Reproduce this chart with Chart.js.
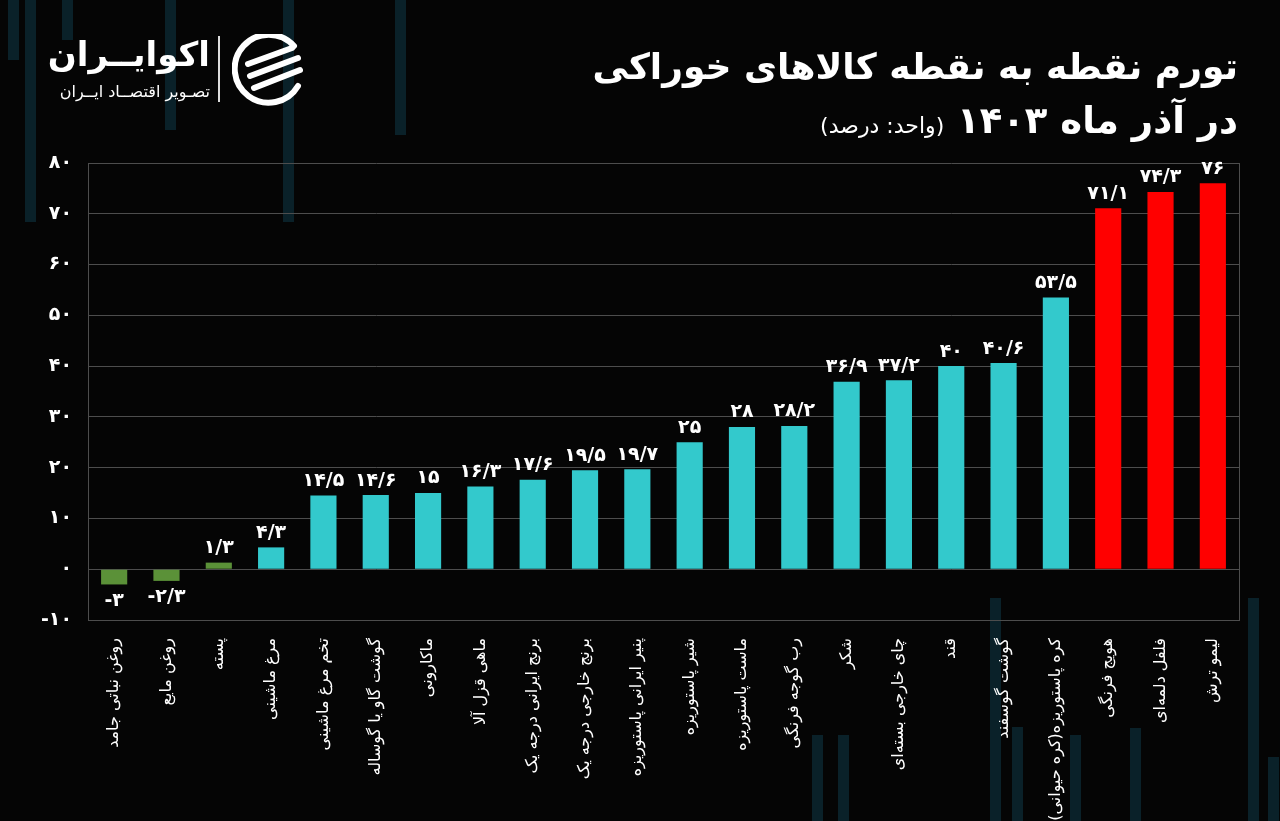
<!DOCTYPE html>
<html lang="fa">
<head>
<meta charset="utf-8">
<script src="https://cdn.jsdelivr.net/npm/chart.js@4/dist/chart.umd.min.js"></script>
<style>
  html, body { margin: 0; padding: 0; background: #050505; }
  body { width: 1280px; height: 821px; position: relative; overflow: hidden; font-family: "DejaVu Sans", sans-serif; color: #fff; }
  .deco { position: absolute; background: #0a2129; width: 11px; }
  #wrap { position: absolute; left: 0; top: 0; width: 1280px; height: 821px; }
  .title { position: absolute; right: 42px; top: 42px; direction: rtl; text-align: right; font-weight: bold; white-space: nowrap; }
  .title .l1 { font-size: 36px; line-height: 50px; }
  .title .l2 { font-size: 37px; line-height: 58px; }
  .title .unit { font-size: 22px; font-weight: normal; }
  .logo { position: absolute; left: 48px; top: 34px; }
  .logo .name { position: absolute; left: 0; top: 0; width: 162px; text-align: right; direction: rtl; font-size: 34px; font-weight: bold; white-space: nowrap; }
  .logo .sub { position: absolute; left: 0; top: 48px; width: 162px; text-align: right; direction: rtl; font-size: 16px; white-space: nowrap; }
  .logo .bar { position: absolute; left: 170px; top: 2px; width: 2px; height: 66px; background: #ddd; }
  .logo svg { position: absolute; left: 184px; top: 0; }
</style>
</head>
<body>
<!-- faint background decoration -->
<div class="deco" style="left:8px;top:0;height:60px"></div>
<div class="deco" style="left:25px;top:0;height:222px"></div>
<div class="deco" style="left:62px;top:0;height:40px"></div>
<div class="deco" style="left:165px;top:0;height:130px"></div>
<div class="deco" style="left:283px;top:0;height:222px"></div>
<div class="deco" style="left:395px;top:0;height:135px"></div>
<div class="deco" style="left:812px;top:735px;height:90px"></div>
<div class="deco" style="left:838px;top:735px;height:90px"></div>
<div class="deco" style="left:990px;top:598px;height:230px"></div>
<div class="deco" style="left:1012px;top:727px;height:100px"></div>
<div class="deco" style="left:1070px;top:735px;height:90px"></div>
<div class="deco" style="left:1130px;top:728px;height:100px"></div>
<div class="deco" style="left:1248px;top:598px;height:230px"></div>
<div class="deco" style="left:1268px;top:757px;height:70px"></div>

<div id="wrap"><canvas id="myChart" width="1280" height="821"></canvas></div>

<div class="logo">
  <div class="name">اکوایــران</div>
  <div class="sub">تصـویر اقتصــاد ایــران</div>
  <div class="bar"></div>
  <svg width="76" height="74" viewBox="0 0 76 74">
    <g fill="none" stroke="#fff" stroke-width="6" stroke-linecap="round">
      <path d="M62 12 A34 34 0 1 0 66 52"/>
      <path d="M16 30 L60 14"/>
      <path d="M18 42 L66 24"/>
      <path d="M22 54 L68 36"/>
    </g>
  </svg>
</div>

<div class="title">
  <div class="l1">تورم نقطه به نقطه کالاهای خوراکی</div>
  <div class="l2">در آذر ماه ۱۴۰۳ <span class="unit">(واحد: درصد)</span></div>
</div>

<script>
// chart data
const categories = [
	'روغن نباتی جامد', 'روغن مایع', 'پسته', 'مرغ ماشینی', 'تخم مرغ ماشینی',
	'گوشت گاو یا گوساله', 'ماکارونی', 'ماهی قزل آلا', 'برنج ایرانی درجه یک',
	'برنج خارجی درجه یک', 'پنیر ایرانی پاستوریزه', 'شیر پاستوریزه', 'ماست پاستوریزه',
	'رب گوجه فرنگی', 'شکر', 'چای خارجی بسته‌ای', 'قند', 'گوشت گوسفند',
	'کره پاستوریزه(کره حیوانی)', 'هویج فرنگی', 'فلفل دلمه‌ای', 'لیمو ترش'
];
const inflation = [-3, -2.3, 1.3, 4.3, 14.5, 14.6, 15, 16.3, 17.6, 19.5, 19.7, 25, 28, 28.2, 36.9, 37.2, 40, 40.6, 53.5, 71.1, 74.3, 76];
const yTicks = [-10, 0, 10, 20, 30, 40, 50, 60, 70, 80];

const faDigits = '۰۱۲۳۴۵۶۷۸۹';
const toFa = (n) => String(n).replace(/\d/g, d => faDigits[d]).replace('.', '/');

const barColor = (v) => {
	if (v < 4) return '#5b9138';
	if (v > 60) return '#ff0000';
	return '#33c9cc';
};

// value labels over the bars
const valueLabels = {
	id: 'valueLabels',
	afterDatasetsDraw(chart) {
		const ctx = chart.ctx;
		const meta = chart.getDatasetMeta(0);
		ctx.save();
		ctx.direction = 'ltr';
		ctx.fillStyle = '#fff';
		ctx.font = 'bold 19px "DejaVu Sans"';
		ctx.textAlign = 'center';
		meta.data.forEach((bar, i) => {
			const v = inflation[i];
			if (v < 0) {
				ctx.textBaseline = 'top';
				ctx.fillText(toFa(v), bar.x, bar.y + 7);
			} else {
				ctx.textBaseline = 'bottom';
				ctx.fillText(toFa(v), bar.x, bar.y - 5);
			}
		});
		ctx.restore();
	}
};

// right side frame line
const frameRight = {
	id: 'frameRight',
	beforeDatasetsDraw(chart) {
		const { ctx, chartArea } = chart;
		ctx.save();
		ctx.strokeStyle = '#4d4d4d';
		ctx.lineWidth = 1;
		ctx.beginPath();
		ctx.moveTo(chartArea.right + 0.5, chartArea.top);
		ctx.lineTo(chartArea.right + 0.5, chartArea.bottom);
		ctx.stroke();
		ctx.restore();
	}
};

Chart.defaults.font.family = '"DejaVu Sans", sans-serif';
Chart.defaults.color = '#fff';

const myChart = new Chart(document.getElementById('myChart').getContext('2d'), {
	type: 'bar',
	data: {
		labels: categories.map(c => '\u200F' + c + '\u200F'),
		datasets: [{
			data: inflation,
			backgroundColor: (c) => barColor(c.raw),
			barPercentage: 0.5,
			categoryPercentage: 1
		}]
	},
	options: {
		responsive: false,
		animation: false,
		layout: { padding: { top: 163, right: 41, left: 0, bottom: 0 } },
		plugins: { legend: { display: false }, tooltip: { enabled: false } },
		scales: {
			x: {
				grid: { display: false },
				border: { color: '#4d4d4d' },
				ticks: {
					autoSkip: false,
					maxRotation: 90,
					minRotation: 90,
					padding: 10,
					color: '#fff',
					font: { size: 16 }
				},
				afterFit: (scale) => { scale.height = 201; }
			},
			y: {
				min: -10,
				max: 80,
				afterBuildTicks: (scale) => { scale.ticks = yTicks.map(v => ({ value: v })); },
				grid: { color: '#4d4d4d', drawTicks: false },
				border: { color: '#4d4d4d' },
				ticks: {
					padding: 16,
					color: '#fff',
					font: { size: 19, weight: 'bold' },
					callback: (v) => '\u2066' + toFa(v) + '\u2069'
				},
				afterFit: (scale) => { scale.width = 88; }
			}
		}
	},
	plugins: [valueLabels, frameRight]
});
</script>
</body>
</html>
